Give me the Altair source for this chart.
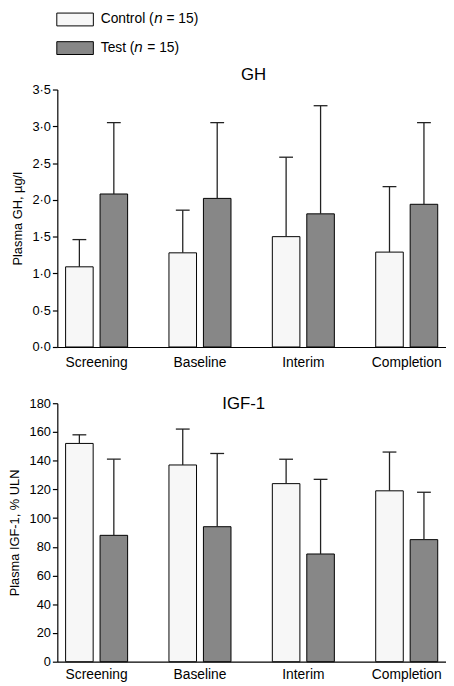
import altair as alt
import pandas as pd

FONT = "Liberation Sans"
CTRL_FILL = "#f7f7f7"
TEST_FILL = "#878787"
ERR_COLOR = "#222222"

phases = ["Screening", "Baseline", "Interim", "Completion"]
groups = ["Control (\U0001D62F = 15)", "Test (\U0001D62F = 15)"]

gh_control = [1.09, 1.28, 1.50, 1.29]
gh_control_sd = [0.37, 0.58, 1.08, 0.89]
gh_test = [2.08, 2.02, 1.81, 1.94]
gh_test_sd = [0.97, 1.03, 1.47, 1.11]

igf_control = [152, 137, 124, 119]
igf_control_sd = [6, 25, 17, 27]
igf_test = [88, 94, 75, 85]
igf_test_sd = [53, 51, 52, 33]

gh_ticks = [0.0, 0.5, 1.0, 1.5, 2.0, 2.5, 3.0, 3.5]
igf_ticks = [0, 20, 40, 60, 80, 100, 120, 140, 160, 180]


def make_df(ctrl, ctrl_sd, test, test_sd):
    rows = []
    for i, p in enumerate(phases):
        rows.append({"phase": p, "group": groups[0], "mean": ctrl[i], "upper": ctrl[i] + ctrl_sd[i]})
        rows.append({"phase": p, "group": groups[1], "mean": test[i], "upper": test[i] + test_sd[i]})
    return pd.DataFrame(rows)


def panel(df, title, title_offset, title_dx, ytitle, ticks, domain, height, legend,
          xlabel_pad, label_expr=None):
    axis_kwargs = dict(values=ticks, title=ytitle, labelOverlap=False)
    if label_expr:
        axis_kwargs["labelExpr"] = label_expr
    yscale = alt.Scale(domain=domain, nice=False)

    def yenc(field):
        return alt.Y(field, type="quantitative", scale=yscale, axis=alt.Axis(**axis_kwargs))

    base = alt.Chart(df).encode(
        x=alt.X(
            "phase:N",
            sort=phases,
            title=None,
            scale=alt.Scale(paddingInner=0.4, paddingOuter=0.08),
            axis=alt.Axis(labelAngle=0, ticks=False, labelFontSize=14, labelPadding=xlabel_pad),
        ),
        xOffset=alt.XOffset("group:N", sort=groups, scale=alt.Scale(paddingInner=0.2, paddingOuter=0)),
    )
    bars = base.mark_bar(stroke="black", strokeWidth=1).encode(
        y=yenc("mean"),
        color=alt.Color(
            "group:N",
            sort=groups,
            scale=alt.Scale(domain=groups, range=[CTRL_FILL, TEST_FILL]),
            legend=legend,
        ),
    )
    rules = base.mark_rule(color=ERR_COLOR, strokeWidth=1.3).encode(y=yenc("mean"), y2="upper:Q")
    caps = base.mark_tick(color=ERR_COLOR, thickness=1.3, size=14, opacity=1).encode(y=yenc("upper"))
    return alt.layer(bars, rules, caps).properties(
        width=394,
        height=height,
        title=alt.TitleParams(
            text=title, fontSize=17, fontWeight="normal", font=FONT, color="black",
            anchor="middle", offset=title_offset, dx=title_dx,
        ),
    )


gh_df = make_df(gh_control, gh_control_sd, gh_test, gh_test_sd)
igf_df = make_df(igf_control, igf_control_sd, igf_test, igf_test_sd)

legend = alt.Legend(
    title=None, orient="none", legendX=11, legendY=-78, direction="vertical",
    symbolType="M-2.85,-1H2.85V1H-2.85Z", symbolSize=169, symbolStrokeColor="black",
    symbolStrokeWidth=1, symbolOpacity=1, labelFontSize=14, labelFont=FONT,
    labelColor="black", labelOffset=19, rowPadding=11,
)

gh = panel(gh_df, "GH", 0, 2, "Plasma GH, µg/l", gh_ticks, [0, 3.5], 261, legend, 9,
           "replace(format(datum.value, '.1f'), '.', '·')")
igf = panel(igf_df, "IGF-1", -16, -8, "Plasma IGF-1, % ULN", igf_ticks, [0, 180], 262, None, 6)

chart = (
    alt.vconcat(gh, igf, spacing=26)
    .properties(padding=0)
    .configure_view(stroke=None)
    .configure_axis(
        grid=False, domainColor="black", tickColor="black", domainWidth=1.2, tickWidth=1.2,
        labelColor="black", titleColor="black", labelFont=FONT, titleFont=FONT,
    )
    .configure_axisY(
        tickSize=5, labelFontSize=13, labelPadding=2, titleFontSize=13,
        titleFontWeight="normal", titlePadding=8,
    )
)

chart.save("out.html", embed_options={"renderer": "svg", "actions": False})
